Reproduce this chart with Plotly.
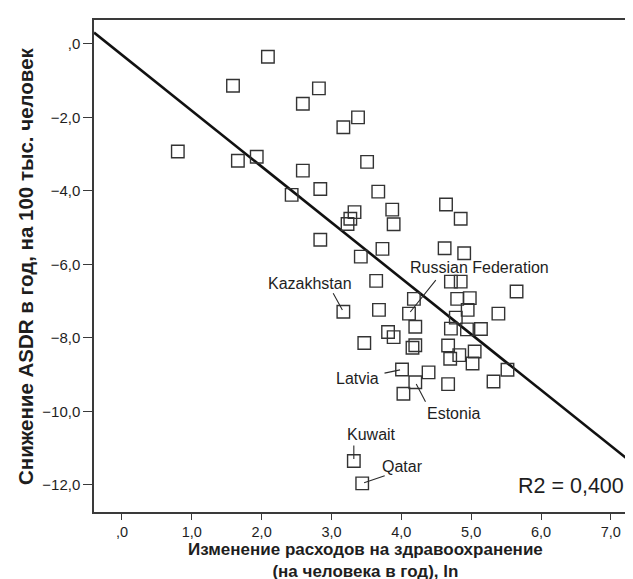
import numpy as np
import plotly.graph_objects as go

# Change in health expenditure (ln) and ASDR decline per year
x_vals = [2.09, 1.59, 2.82, 2.59, 3.38, 3.17, 0.80, 1.66, 1.93, 3.51,
          2.59, 2.43, 2.84, 3.33, 3.27, 3.23, 2.84, 3.42, 3.67, 3.87,
          3.89, 4.64, 4.85, 3.73, 4.62, 4.90, 3.64, 4.71, 4.85, 5.65,
          4.18, 4.80, 4.98, 4.95, 3.17, 3.68, 4.11, 4.78, 5.39, 4.20,
          4.71, 4.94, 5.14, 3.81, 3.89, 3.47, 4.20, 4.16, 4.67, 4.83,
          5.05, 4.70, 4.01, 4.39, 4.20, 4.03, 4.67, 5.02, 5.52, 5.32,
          3.32, 3.44]
y_vals = [-0.35, -1.14, -1.21, -1.63, -2.00, -2.27, -2.93, -3.18, -3.07, -3.21,
          -3.45, -4.11, -3.95, -4.58, -4.76, -4.90, -5.33, -5.79, -4.02, -4.51,
          -4.91, -4.37, -4.76, -5.58, -5.56, -5.70, -6.45, -6.47, -6.47, -6.74,
          -6.94, -6.94, -6.92, -7.24, -7.29, -7.24, -7.34, -7.45, -7.34, -7.70,
          -7.75, -7.77, -7.76, -7.84, -7.98, -8.14, -8.20, -8.27, -8.21, -8.47,
          -8.37, -8.57, -8.86, -8.94, -9.21, -9.52, -9.26, -8.70, -8.87, -9.19,
          -11.35, -11.96]

# Labelled countries and the index of their point
labels = ["Kazakhstan", "Russian Federation", "Latvia", "Estonia", "Kuwait", "Qatar"]
label_idx = [34, 36, 52, 54, 60, 61]

# Fitted regression line coefficients
reg_intercept = -0.30
reg_slope = -1.52

x_tickvals = [0, 1, 2, 3, 4, 5, 6, 7]
x_ticktext = [",0", "1,0", "2,0", "3,0", "4,0", "5,0", "6,0", "7,0"]
y_tickvals = [0, -2, -4, -6, -8, -10, -12]
y_ticktext = [",0", "\u22122,0", "\u22124,0", "\u22126,0", "\u22128,0", "\u221210,0", "\u221212,0"]

r2_text = "R2 = 0,400"
x_title = "Изменение расходов на здравоохранение<br>(на человека в год), ln"
y_title = "Снижение ASDR в год, на 100 тыс. человек"

x_range = [-0.40, 7.36]
y_range = [-12.74, 0.65]

line_x = np.array(x_range)
line_y = reg_intercept + reg_slope * line_x

font_family = "Liberation Sans, Arial, sans-serif"
dark = "#2b2b2b"
txt = "#1e1e1e"

fig = go.Figure()
fig.add_trace(go.Scatter(
    x=line_x, y=line_y, mode="lines",
    line=dict(color="#111111", width=2.6), hoverinfo="skip", showlegend=False))
fig.add_trace(go.Scatter(
    x=x_vals, y=y_vals, mode="markers",
    marker=dict(symbol="square-open", size=12.5, color="#333333",
                line=dict(width=1.4, color="#333333")),
    showlegend=False))

# label geometry (pixel offsets)
arrow_off = [(-11, -20), (28, -35), (-19, 4), (11, 21), (0, -17), (24, -8)]
text_off = [(-33, 28), (70, 46), (-45, -9), (38, -31), (18, 26), (40, 17)]

ann = []
for name, i, (adx, ady), (tdx, tdy) in zip(labels, label_idx, arrow_off, text_off):
    ann.append(dict(x=x_vals[i], y=y_vals[i], xref="x", yref="y", text="",
                    showarrow=True, arrowhead=0, arrowwidth=1.1, arrowcolor=dark,
                    ax=adx, ay=ady, standoff=2))
    ann.append(dict(x=x_vals[i], y=y_vals[i], xref="x", yref="y", text=name,
                    showarrow=False, xshift=tdx, yshift=tdy,
                    font=dict(family=font_family, size=16, color=txt)))

ann.append(dict(x=0.982, y=0.053, xref="x domain", yref="y domain", text=r2_text,
                showarrow=False, xanchor="right", yanchor="middle",
                font=dict(family=font_family, size=21.5, color=txt)))
ann.append(dict(x=0.5, y=0, xref="x domain", yref="paper", text="<b>" + x_title.replace("<br>", "</b><br><b>") + "</b>",
                showarrow=False, xanchor="center", yanchor="top", yshift=-27,
                borderpad=0,
                font=dict(family=font_family, size=17, color=txt)))
ann.append(dict(x=0, y=0.5, xref="paper", yref="y domain", text="<b>" + y_title + "</b>",
                showarrow=False, textangle=-90, xanchor="center", yanchor="middle",
                xshift=-69,
                font=dict(family=font_family, size=20.5, color=txt)))

fig.update_layout(
    width=633, height=579,
    margin=dict(l=86, r=3, t=12, b=75),
    paper_bgcolor="white", plot_bgcolor="white",
    annotations=ann,
    font=dict(family=font_family, size=14, color=txt),
)
fig.update_xaxes(range=x_range, tickvals=x_tickvals, ticktext=x_ticktext,
                 showgrid=False, zeroline=False, showline=True, mirror=True,
                 linecolor="#3a3a3a", linewidth=1.5, ticks="outside", ticklen=6,
                 tickcolor="#3a3a3a", tickwidth=1.2,
                 tickfont=dict(family=font_family, size=14.5, color=txt))
fig.update_yaxes(range=y_range, tickvals=y_tickvals, ticktext=y_ticktext,
                 showgrid=False, zeroline=False, showline=True, mirror=True,
                 linecolor="#3a3a3a", linewidth=1.5, ticks="outside", ticklen=9,
                 tickcolor="#3a3a3a", tickwidth=1.2,
                 tickfont=dict(family=font_family, size=15, color=txt))

fig.write_html("out.html")
